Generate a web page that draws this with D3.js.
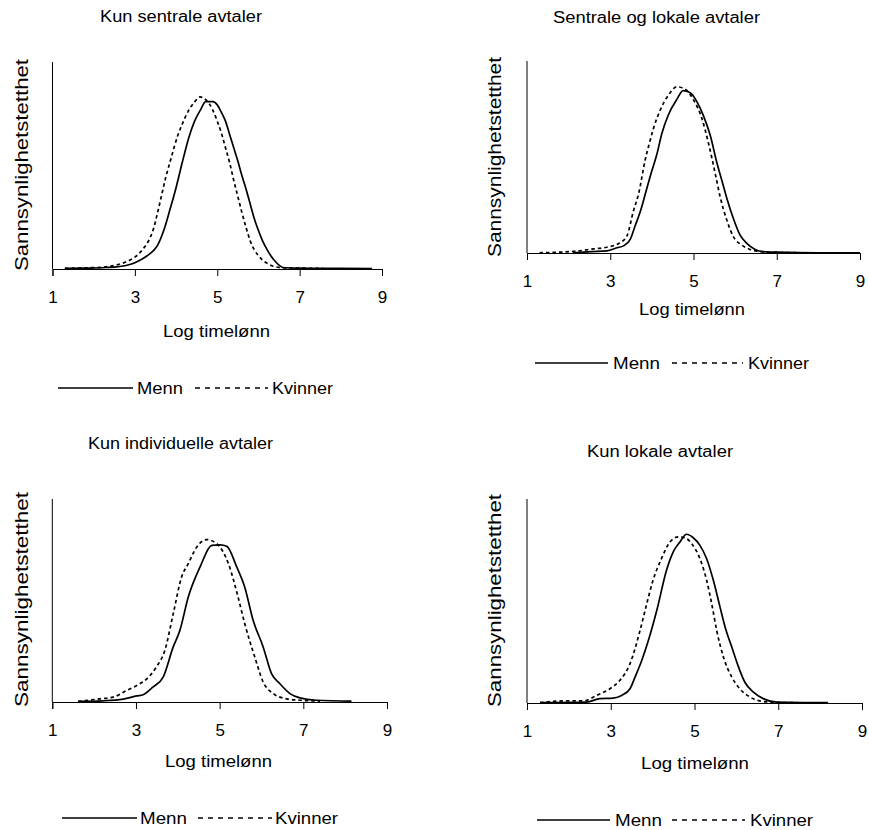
<!DOCTYPE html>
<html>
<head>
<meta charset="utf-8">
<script src="https://cdn.jsdelivr.net/npm/d3@7"></script>
<style>
  html, body { margin: 0; padding: 0; background: #fff; }
  svg { display: block; }
  text { font-family: "Liberation Sans", Arial, sans-serif; fill: #000; }
</style>
</head>
<body>
<svg id="chart" width="869" height="830"></svg>
<script>
// ---------------- DATA ----------------
const titles = ["Kun sentrale avtaler", "Sentrale og lokale avtaler", "Kun individuelle avtaler", "Kun lokale avtaler"];
const xLabel = "Log timelønn";
const yLabel = "Sannsynlighetstetthet";
const seriesNames = ["Menn", "Kvinner"];
const xTicks = [1, 3, 5, 7, 9];
const xDomain = [1, 9];
const yDomain = [0, 0.7];

// Panel 1: Kun sentrale avtaler  [log wage, density]
const menn1 = [[1.3,0.002],[1.8,0.003],[2.3,0.005],[2.6,0.008],[2.9,0.016],[3.1,0.028],[3.3,0.045],[3.45,0.062],[3.55,0.08],[3.7,0.13],[3.85,0.2],[4.0,0.275],[4.15,0.36],[4.3,0.44],[4.45,0.5],[4.6,0.54],[4.72,0.566],[4.9,0.566],[5.0,0.555],[5.1,0.53],[5.2,0.5],[5.3,0.455],[5.4,0.41],[5.5,0.365],[5.6,0.315],[5.7,0.27],[5.8,0.22],[5.9,0.17],[6.0,0.13],[6.1,0.095],[6.2,0.068],[6.3,0.045],[6.4,0.027],[6.5,0.013],[6.6,0.005],[7.0,0.003],[7.5,0.002],[8.0,0.002],[8.76,0.001]];
const kvinner1 = [[1.3,0.002],[1.8,0.004],[2.2,0.006],[2.5,0.012],[2.8,0.025],[3.0,0.04],[3.2,0.068],[3.35,0.1],[3.45,0.135],[3.55,0.19],[3.65,0.25],[3.75,0.31],[3.85,0.36],[3.95,0.41],[4.05,0.455],[4.15,0.49],[4.3,0.535],[4.45,0.565],[4.58,0.582],[4.7,0.575],[4.8,0.56],[4.9,0.535],[5.0,0.5],[5.1,0.46],[5.2,0.41],[5.3,0.36],[5.4,0.3],[5.5,0.245],[5.6,0.19],[5.7,0.14],[5.8,0.095],[5.9,0.065],[6.0,0.045],[6.1,0.03],[6.2,0.02],[6.4,0.008],[6.6,0.004],[7.0,0.003],[7.57,0.002]];

// Panel 2: Sentrale og lokale avtaler
const menn2 = [[2.1,0.001],[2.56,0.005],[2.92,0.008],[3.16,0.019],[3.32,0.026],[3.48,0.05],[3.6,0.1],[3.72,0.15],[3.86,0.225],[3.98,0.29],[4.12,0.36],[4.24,0.436],[4.4,0.505],[4.6,0.56],[4.75,0.592],[4.92,0.584],[5.08,0.552],[5.24,0.5],[5.4,0.43],[5.56,0.33],[5.68,0.265],[5.8,0.2],[5.96,0.125],[6.12,0.065],[6.28,0.035],[6.48,0.013],[6.68,0.005],[7.0,0.003],[8.0,0.001],[9.0,0.001]];
const kvinner2 = [[1.3,0.001],[2.2,0.007],[2.6,0.015],[2.92,0.021],[3.24,0.038],[3.4,0.062],[3.56,0.155],[3.68,0.215],[3.84,0.34],[3.94,0.4],[4.04,0.455],[4.2,0.521],[4.4,0.576],[4.6,0.606],[4.8,0.597],[5.0,0.558],[5.2,0.491],[5.36,0.4],[5.52,0.291],[5.64,0.205],[5.8,0.12],[5.96,0.059],[6.16,0.029],[6.36,0.013],[6.6,0.005],[7.0,0.002],[7.56,0.001]];

// Panel 3: Kun individuelle avtaler
const menn3 = [[1.62,0.002],[2.2,0.004],[2.7,0.01],[3.02,0.021],[3.17,0.025],[3.41,0.052],[3.65,0.086],[3.89,0.19],[4.05,0.247],[4.25,0.362],[4.53,0.465],[4.81,0.54],[5.01,0.542],[5.17,0.537],[5.41,0.465],[5.6,0.396],[5.8,0.282],[6.04,0.19],[6.24,0.098],[6.44,0.063],[6.68,0.029],[6.92,0.014],[7.32,0.006],[8.15,0.003]];
const kvinner3 = [[1.62,0.002],[2.14,0.011],[2.46,0.017],[2.78,0.04],[3.02,0.057],[3.26,0.08],[3.49,0.121],[3.69,0.178],[3.89,0.304],[4.09,0.431],[4.25,0.477],[4.45,0.534],[4.69,0.56],[4.93,0.546],[5.21,0.477],[5.44,0.362],[5.6,0.27],[5.84,0.155],[6.04,0.069],[6.28,0.029],[6.6,0.011],[6.92,0.006],[7.4,0.003]];

// Panel 4: Kun lokale avtaler
const menn4 = [[1.31,0.001],[2.42,0.003],[2.74,0.015],[3.06,0.017],[3.26,0.026],[3.46,0.049],[3.58,0.089],[3.74,0.146],[3.9,0.215],[4.1,0.318],[4.33,0.455],[4.49,0.518],[4.65,0.552],[4.81,0.579],[4.97,0.567],[5.13,0.541],[5.29,0.495],[5.45,0.421],[5.61,0.329],[5.73,0.261],[5.89,0.192],[6.05,0.124],[6.2,0.072],[6.4,0.038],[6.64,0.015],[6.96,0.003],[8.19,0.001]];
const kvinner4 = [[1.31,0.001],[1.87,0.007],[2.34,0.007],[2.66,0.026],[2.98,0.049],[3.22,0.078],[3.46,0.135],[3.7,0.249],[3.86,0.341],[4.01,0.421],[4.21,0.495],[4.41,0.552],[4.61,0.57],[4.77,0.567],[4.93,0.547],[5.13,0.495],[5.29,0.421],[5.41,0.341],[5.53,0.249],[5.69,0.158],[5.89,0.089],[6.08,0.049],[6.32,0.021],[6.56,0.007],[6.96,0.002],[7.44,0.001]];

const panelData = [[menn1, kvinner1], [menn2, kvinner2], [menn3, kvinner3], [menn4, kvinner4]];

// ---------------- LAYOUT ----------------
const layouts = [
  { x0: 52.5, x1: 382, yb: 269, yt: 62, title: { x: 100, y: 22, w: 162 }, xl: { x: 163, y: 337, w: 107 },
    yl: { x: 28, y: 271, w: 212, s: 19 },
    leg: { y: 388, l0: 58, l1: 133, mx: 137, mw: 46, d0: 195, d1: 268, kx: 272, kw: 61 } },
  { x0: 527, x1: 860, yb: 253, yt: 61, title: { x: 553, y: 23, w: 207 }, xl: { x: 639, y: 315, w: 106 },
    yl: { x: 501, y: 257, w: 200, s: 19 },
    leg: { y: 363, l0: 535, l1: 608, mx: 613, mw: 47, d0: 672, d1: 743, kx: 748, kw: 61 } },
  { x0: 52.3, x1: 387, yb: 702, yt: 499, title: { x: 88, y: 449, w: 185 }, xl: { x: 165, y: 767, w: 107 },
    yl: { x: 28, y: 707, w: 215, s: 19 },
    leg: { y: 818, l0: 62, l1: 137, mx: 140, mw: 47, d0: 198, d1: 272, kx: 275, kw: 63 } },
  { x0: 527, x1: 862, yb: 703, yt: 499, title: { x: 587, y: 457, w: 146 }, xl: { x: 641, y: 769, w: 108 },
    yl: { x: 501, y: 707, w: 213, s: 19 },
    leg: { y: 820, l0: 537, l1: 610, mx: 615, mw: 47, d0: 672, d1: 745, kx: 750, kw: 63 } }
];

const svg = d3.select("#chart");

function stretched(sel, w) {
  return sel.attr("textLength", w).attr("lengthAdjust", "spacingAndGlyphs");
}

layouts.forEach((L, i) => {
  const g = svg.append("g");
  const x = d3.scaleLinear().domain(xDomain).range([L.x0, L.x1]);
  const y = d3.scaleLinear().domain(yDomain).range([L.yb, L.yt]);

  // title
  stretched(g.append("text").attr("x", L.title.x).attr("y", L.title.y)
    .style("font-size", "16px").text(titles[i]), L.title.w);

  // y axis line (no ticks)
  g.append("line").attr("x1", L.x0).attr("x2", L.x0).attr("y1", L.yt).attr("y2", L.yb)
    .attr("stroke", "#000").attr("stroke-width", 1);

  // x axis
  const ax = g.append("g").attr("transform", `translate(0,${L.yb})`)
    .call(d3.axisBottom(x).tickValues(xTicks).tickSize(7).tickPadding(15).tickFormat(d3.format("d")));
  ax.select(".domain").attr("stroke", "#000").attr("stroke-width", 1);
  ax.selectAll(".tick line").attr("stroke", "#000");
  ax.selectAll(".tick text").style("font-size", "17px")
    .style("font-family", '"Liberation Sans", Arial, sans-serif').attr("fill", "#000");

  // x label
  stretched(g.append("text").attr("x", L.xl.x).attr("y", L.xl.y)
    .style("font-size", "17px").text(xLabel), L.xl.w);

  // y label
  stretched(g.append("text").attr("transform", `translate(${L.yl.x},${L.yl.y}) rotate(-90)`)
    .attr("text-anchor", "start")
    .style("font-size", L.yl.s + "px").text(yLabel), L.yl.w);

  // curves
  const line = d3.line().x(d => x(d[0])).y(d => y(d[1])).curve(d3.curveMonotoneX);
  const [m, k] = panelData[i];
  g.append("path").datum(k).attr("d", line).attr("fill", "none")
    .attr("stroke", "#000").attr("stroke-width", 1.7).attr("stroke-dasharray", "3.5,3");
  g.append("path").datum(m).attr("d", line).attr("fill", "none")
    .attr("stroke", "#000").attr("stroke-width", 1.7);

  // legend
  const lg = L.leg;
  g.append("line").attr("x1", lg.l0).attr("x2", lg.l1).attr("y1", lg.y).attr("y2", lg.y)
    .attr("stroke", "#000").attr("stroke-width", 1.7);
  stretched(g.append("text").attr("x", lg.mx).attr("y", lg.y + 6)
    .style("font-size", "16px").text(seriesNames[0]), lg.mw);
  g.append("line").attr("x1", lg.d0).attr("x2", lg.d1).attr("y1", lg.y).attr("y2", lg.y)
    .attr("stroke", "#000").attr("stroke-width", 1.7).attr("stroke-dasharray", "5,5");
  stretched(g.append("text").attr("x", lg.kx).attr("y", lg.y + 6)
    .style("font-size", "16px").text(seriesNames[1]), lg.kw);
});
</script>
</body>
</html>
